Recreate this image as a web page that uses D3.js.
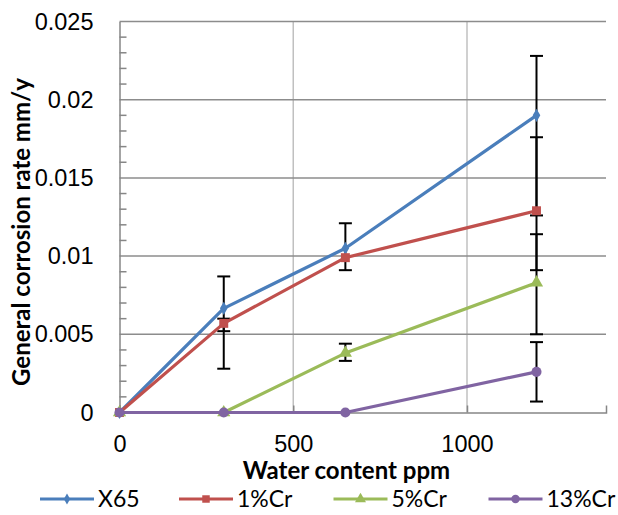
<!DOCTYPE html>
<html>
<head>
<meta charset="utf-8">
<script src="https://cdn.jsdelivr.net/npm/d3@7"></script>
<style>
  body { margin: 0; background: #fff; }
  svg { display: block; font-family: Lato, "Open Sans", sans-serif; }
</style>
</head>
<body>
<div id="chart"></div>
<script>
// values
var waterContent = [0, 300, 650, 1200];
var seriesNames = ["X65", "1%Cr", "5%Cr", "13%Cr"];

var x65 = [0, 0.00666, 0.0105, 0.0190];
var cr1 = [0, 0.0057, 0.0099, 0.0129];
var cr5 = [0, 0, 0.0038, 0.0083];
var cr13 = [0, 0, 0, 0.0026];

// error bar ends (null = no bar)
var x65Low = [null, 0.0052, 0.0091, 0.0126];
var x65High = [null, 0.0087, 0.0121, 0.0228];
var cr1Low = [null, 0.0028, null, 0.0091];
var cr1High = [null, 0.0060, null, 0.0176];
var cr5Low = [null, null, 0.0033, 0.0050];
var cr5High = [null, null, 0.0044, 0.0114];
var cr13Low = [null, null, null, 0.0007];
var cr13High = [null, null, null, 0.0045];

var xTicks = [0, 500, 1000];
var xTickLabels = ["0", "500", "1000"];
var yTicks = [0, 0.005, 0.01, 0.015, 0.02, 0.025];
var yTickLabels = ["0", "0.005", "0.01", "0.015", "0.02", "0.025"];

var width = 618, height = 515;
var margin = {top: 21.5, right: 12, bottom: 102.5, left: 119.5};
var w = width - margin.left - margin.right;
var h = height - margin.top - margin.bottom;

var colours = ["#4a7ebb", "#c0504d", "#9bbb59", "#8064a2"];
var symbols = [d3.symbolDiamond, d3.symbolSquare, d3.symbolTriangle, d3.symbolCircle];
var symSizes = [50, 80, 75, 80];

var allValues = [x65, cr1, cr5, cr13];
var allLow = [x65Low, cr1Low, cr5Low, cr13Low];
var allHigh = [x65High, cr1High, cr5High, cr13High];

var series = seriesNames.map(function(name, s) {
  return {
    name: name,
    colour: colours[s],
    symbol: symbols[s],
    size: symSizes[s],
    points: waterContent.map(function(wc, i) {
      return {x: wc, y: allValues[s][i], lo: allLow[s][i], hi: allHigh[s][i]};
    })
  };
});

var svg = d3.select("#chart").append("svg")
    .attr("width", width)
    .attr("height", height);

var g = svg.append("g")
    .attr("transform", "translate(" + margin.left + "," + margin.top + ")");

var x = d3.scaleLinear().domain([0, 1400]).range([0, w]);
var y = d3.scaleLinear().domain([0, 0.025]).range([h, 0]);

// vertical gridlines (lighter)
g.selectAll(".vgrid")
  .data(xTicks.filter(function(d) { return d > 0; }))
  .enter().append("line")
    .attr("x1", function(d) { return x(d); })
    .attr("x2", function(d) { return x(d); })
    .attr("y1", 0).attr("y2", h)
    .attr("stroke", "#c0c0c0").attr("stroke-width", 1.5);

// horizontal gridlines
g.selectAll(".hgrid")
  .data(yTicks.filter(function(d) { return d > 0; }))
  .enter().append("line")
    .attr("x1", 0).attr("x2", w)
    .attr("y1", function(d) { return y(d); })
    .attr("y2", function(d) { return y(d); })
    .attr("stroke", "#8c8c8c").attr("stroke-width", 1.5);

// y axis with minor ticks pointing inward
var yAxis = d3.axisLeft(y)
    .tickValues(yTicks)
    .tickSize(0)
    .tickPadding(26)
    .tickFormat(function(d, i) { return yTickLabels[i]; });

var yAxisG = g.append("g").call(yAxis);
yAxisG.select(".domain").attr("stroke", "#868686").attr("stroke-width", 1.5);
yAxisG.selectAll("text").attr("font-size", 23.5).attr("fill", "#000");

var minorY = d3.range(0, 26).map(function(i) { return i / 1000; })
    .filter(function(d, i) { return i % 5 != 0; });
g.selectAll(".yminor")
  .data(minorY)
  .enter().append("line")
    .attr("x1", 0).attr("x2", 7)
    .attr("y1", function(d) { return y(d); })
    .attr("y2", function(d) { return y(d); })
    .attr("stroke", "#868686").attr("stroke-width", 1.5);

// x axis
var xAxis = d3.axisBottom(x)
    .tickValues(xTicks)
    .tickSize(-7)
    .tickPadding(23)
    .tickFormat(function(d, i) { return xTickLabels[i]; });

var xAxisG = g.append("g")
    .attr("transform", "translate(0," + h + ")")
    .call(xAxis);
xAxisG.select(".domain").attr("stroke", "#868686").attr("stroke-width", 1.5);
xAxisG.selectAll(".tick line").attr("stroke", "#868686").attr("stroke-width", 1.5);
xAxisG.selectAll("text").attr("font-size", 23.5).attr("fill", "#000");

// error bars
var capHalf = 6.5;
series.forEach(function(s) {
  var bars = s.points.filter(function(p) { return p.lo != null; });
  var eb = g.append("g").attr("stroke", "#000").attr("stroke-width", 2);
  eb.selectAll(".stem").data(bars).enter().append("line")
    .attr("x1", function(p) { return x(p.x); })
    .attr("x2", function(p) { return x(p.x); })
    .attr("y1", function(p) { return y(p.lo); })
    .attr("y2", function(p) { return y(p.hi); });
  ["lo", "hi"].forEach(function(k) {
    eb.selectAll(".cap-" + k).data(bars).enter().append("line")
      .attr("x1", function(p) { return x(p.x) - capHalf; })
      .attr("x2", function(p) { return x(p.x) + capHalf; })
      .attr("y1", function(p) { return y(p[k]); })
      .attr("y2", function(p) { return y(p[k]); });
  });
});

// series lines + markers
var line = d3.line()
    .x(function(p) { return x(p.x); })
    .y(function(p) { return y(p.y); });

series.forEach(function(s) {
  g.append("path")
    .datum(s.points)
    .attr("d", line)
    .attr("fill", "none")
    .attr("stroke", s.colour)
    .attr("stroke-width", 3.2)
    .attr("stroke-linejoin", "round");

  g.selectAll(null)
    .data(s.points)
    .enter().append("path")
      .attr("d", d3.symbol().type(s.symbol).size(s.size))
      .attr("transform", function(p) { return "translate(" + x(p.x) + "," + y(p.y) + ")"; })
      .attr("fill", s.colour);
});

// axis titles
svg.append("text")
    .attr("transform", "translate(30,232) rotate(-90)")
    .attr("text-anchor", "middle")
    .attr("font-size", 24)
    .attr("font-weight", "bold")
    .text("General corrosion rate mm/y");

svg.append("text")
    .attr("x", 346.5)
    .attr("y", 479)
    .attr("text-anchor", "middle")
    .attr("font-size", 24)
    .attr("font-weight", "bold")
    .text("Water content ppm");

// legend
var legendX = [40, 179, 333.5, 488.5];
var legend = svg.selectAll(".legend")
  .data(series)
  .enter().append("g")
    .attr("transform", function(d, i) { return "translate(" + legendX[i] + ",499)"; });

legend.append("line")
    .attr("x1", 0).attr("x2", 54)
    .attr("stroke", function(d) { return d.colour; })
    .attr("stroke-width", 3.2);

legend.append("path")
    .attr("d", function(d) { return d3.symbol().type(d.symbol).size(d.size * 0.7)(); })
    .attr("transform", "translate(27,0)")
    .attr("fill", function(d) { return d.colour; });

legend.append("text")
    .attr("x", 58)
    .attr("y", 8)
    .attr("font-size", 23)
    .text(function(d) { return d.name; });
</script>
</body>
</html>
